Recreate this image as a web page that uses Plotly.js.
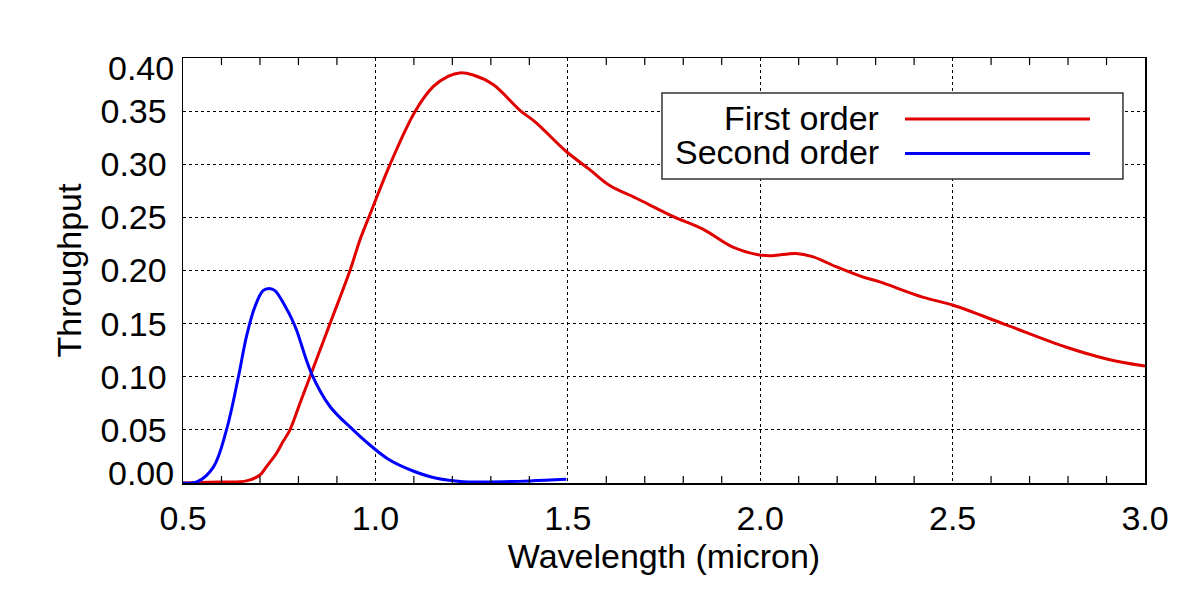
<!DOCTYPE html>
<html>
<head>
<meta charset="utf-8">
<script src="https://cdn.plot.ly/plotly-3.0.1.min.js"></script>
<style>html,body{margin:0;padding:0;background:#fff;}#chart{width:1200px;height:600px;}</style>
</head>
<body>
<div id="chart"></div>
<script>
// First order throughput
const firstWave = [0.5, 0.55, 0.596, 0.665, 0.7, 0.717, 0.743, 0.76, 0.778, 0.804, 0.83, 0.882, 0.934, 0.96, 0.985, 1.037, 1.102, 1.15, 1.19, 1.219, 1.254, 1.306, 1.375, 1.418, 1.496, 1.557, 1.609, 1.678, 1.773, 1.851, 1.929, 1.998, 2.032, 2.093, 2.136, 2.197, 2.266, 2.309, 2.422, 2.5, 2.638, 2.794, 2.898, 3.0];
const firstThru = [0.0, 0.0005, 0.001, 0.002, 0.0075, 0.0154, 0.028, 0.039, 0.05, 0.075, 0.100, 0.150, 0.200, 0.229, 0.252, 0.299, 0.349, 0.373, 0.383, 0.386, 0.384, 0.375, 0.351, 0.339, 0.312, 0.295, 0.280, 0.268, 0.251, 0.239, 0.222, 0.2146, 0.214, 0.216, 0.213, 0.2036, 0.194, 0.1895, 0.175, 0.1675, 0.149, 0.128, 0.117, 0.110];
// Second order throughput
const secondWave = [0.5, 0.536, 0.579, 0.613, 0.644, 0.665, 0.687, 0.708, 0.724, 0.739, 0.769, 0.782, 0.795, 0.834, 0.882, 0.942, 0.985, 1.037, 1.098, 1.159, 1.228, 1.297, 1.401, 1.496];
const secondThru = [0.0, 0.001, 0.015, 0.05, 0.10, 0.138, 0.166, 0.181, 0.183, 0.181, 0.164, 0.155, 0.144, 0.103, 0.072, 0.050, 0.036, 0.0216, 0.0113, 0.0044, 0.0012, 0.001, 0.002, 0.0035];

const seriesNames = ["First order", "Second order"];
const seriesColors = ["#e00000", "#0000ff"];
const yTickVals = [0, 0.05, 0.10, 0.15, 0.20, 0.25, 0.30, 0.35, 0.40];
const yTickText = ["0.00", "0.05", "0.10", "0.15", "0.20", "0.25", "0.30", "0.35", "0.40"];
const xTickVals = [0.5, 1.0, 1.5, 2.0, 2.5, 3.0];
const xTickText = ["0.5", "1.0", "1.5", "2.0", "2.5", "3.0"];
const xMinorTicks = [0.6, 0.7, 0.8, 0.9, 1.1, 1.2, 1.3, 1.4, 1.6, 1.7, 1.8, 1.9, 2.1, 2.2, 2.3, 2.4, 2.6, 2.7, 2.8, 2.9];

const FONT = "Liberation Sans, Arial, Helvetica, sans-serif";
const FS = 34;
const PLOT_H = 425;
const TICK_LEN = 7 / PLOT_H;

const traces = [
  {x: firstWave, y: firstThru, mode: "lines", name: seriesNames[0], line: {color: seriesColors[0], width: 3, shape: "spline", smoothing: 1}, showlegend: false},
  {x: secondWave, y: secondThru, mode: "lines", name: seriesNames[1], line: {color: seriesColors[1], width: 3, shape: "spline", smoothing: 1}, showlegend: false}
];

const innerIdx = [1,2,3,4,5,6,7];
const annotations = [
  {xref: "paper", yref: "y", x: 0, y: yTickVals[0], xanchor: "right", yanchor: "middle", xshift: -8, yshift: 10, text: yTickText[0], showarrow: false, borderpad: 0, font: {family: FONT, size: FS, color: "#000"}},
  {xref: "paper", yref: "y", x: 0, y: yTickVals[8], xanchor: "right", yanchor: "middle", xshift: -8, yshift: -10, text: yTickText[8], showarrow: false, borderpad: 0, font: {family: FONT, size: FS, color: "#000"}},
  {xref: "paper", yref: "paper", x: 0.7245, y: 0.8588, xanchor: "right", yanchor: "middle", height: 32, text: seriesNames[0], showarrow: false, borderpad: 0, font: {family: FONT, size: FS, color: "#000"}},
  {xref: "paper", yref: "paper", x: 0.7245, y: 0.7788, xanchor: "right", yanchor: "middle", height: 32, text: seriesNames[1], showarrow: false, borderpad: 0, font: {family: FONT, size: FS, color: "#000"}}
];

const shapes = [];
// minor ticks on bottom and top frame (inside)
xMinorTicks.forEach(v => {
  shapes.push({type: "line", xref: "x", yref: "paper", x0: v, x1: v, y0: 0, y1: TICK_LEN, line: {color: "#000", width: 1.2}, layer: "above"});
  shapes.push({type: "line", xref: "x", yref: "paper", x0: v, x1: v, y0: 1, y1: 1 - TICK_LEN, line: {color: "#000", width: 1.2}, layer: "above"});
});
// legend box
shapes.push({type: "rect", xref: "paper", yref: "paper", x0: 0.4979, x1: 0.9771, y0: 0.7153, y1: 0.9176, line: {color: "#333", width: 1.5}, fillcolor: "#fff", layer: "above"});
shapes.push({type: "line", xref: "paper", yref: "paper", x0: 0.7505, x1: 0.9428, y0: 0.8565, y1: 0.8565, line: {color: seriesColors[0], width: 3}, layer: "above"});
shapes.push({type: "line", xref: "paper", yref: "paper", x0: 0.7505, x1: 0.9428, y0: 0.7753, y1: 0.7753, line: {color: seriesColors[1], width: 3}, layer: "above"});

const layout = {
  width: 1200, height: 600,
  margin: {l: 183, r: 55, t: 58, b: 117},
  paper_bgcolor: "#fff", plot_bgcolor: "#fff",
  font: {family: FONT, size: FS, color: "#000"},
  showlegend: false,
  xaxis: {
    range: [xTickVals[0], xTickVals[xTickVals.length - 1]],
    tickmode: "array", tickvals: xTickVals, ticktext: xTickText,
    showgrid: true, gridcolor: "#000", griddash: "dot", gridwidth: 1,
    showline: true, linecolor: "#000", linewidth: 1.5, mirror: true,
    ticks: "", ticklabelstandoff: 5,
    zeroline: false,
    title: {text: "Wavelength (micron)", font: {family: FONT, size: FS}, standoff: 0},
    tickfont: {family: FONT, size: FS}
  },
  yaxis: {
    range: [0, 0.40], tickmode: "array",
    tickvals: innerIdx.map(i => yTickVals[i]), ticktext: innerIdx.map(i => yTickText[i]),
    showgrid: true, gridcolor: "#000", griddash: "dot", gridwidth: 1,
    showline: true, linecolor: "#000", linewidth: 1.5, mirror: true,
    ticks: "", ticklabelstandoff: 8,
    zeroline: false,
    title: {text: "Throughput", font: {family: FONT, size: FS}, standoff: 8},
    tickfont: {family: FONT, size: FS}
  },
  annotations: annotations,
  shapes: shapes
};

Plotly.newPlot("chart", traces, layout, {displayModeBar: false, staticPlot: true});
</script>
</body>
</html>
